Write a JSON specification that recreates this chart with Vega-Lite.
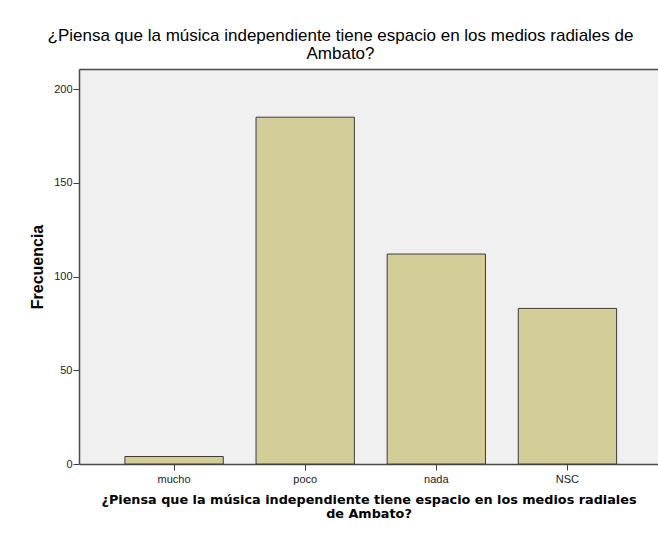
{
  "$schema": "https://vega.github.io/schema/vega-lite/v6.json",
  "autosize": "none",
  "width": 579,
  "height": 395,
  "padding": {"left": 79, "top": 69, "right": 0, "bottom": 69},
  "background": "white",
  "title": {
    "text": ["¿Piensa que la música independiente tiene espacio en los medios radiales de", "Ambato?"],
    "font": "Liberation Sans",
    "fontSize": 17,
    "fontWeight": "normal",
    "color": "#000000",
    "lineHeight": 18.5,
    "anchor": "middle",
    "dx": -28,
    "offset": 6
  },
  "config": {
    "view": {"stroke": null, "fill": "#F0F0F0"}
  },
  "data": {
    "values": [
      {"respuesta": "mucho", "frecuencia": 4},
      {"respuesta": "poco", "frecuencia": 185},
      {"respuesta": "nada", "frecuencia": 112},
      {"respuesta": "NSC", "frecuencia": 83}
    ]
  },
  "resolve": {"axis": {"x": "independent"}},
  "layer": [
    {
      "mark": {"type": "bar", "fill": "#D3CE97", "stroke": "#3c3c3c", "strokeWidth": 1},
      "encoding": {
        "x": {
          "field": "respuesta",
          "type": "nominal",
          "sort": ["mucho", "poco", "nada", "NSC"],
          "scale": {"paddingInner": 0.25, "paddingOuter": 0.333, "align": 0.526},
          "axis": {
            "title": ["¿Piensa que la música independiente tiene espacio en los medios radiales", "de Ambato?"],
            "titleFont": "DejaVu Sans",
            "titleFontSize": 12.8,
            "titleFontWeight": "bold",
            "titleColor": "#000000",
            "titleLineHeight": 14,
            "titlePadding": 9,
            "labelAngle": 0,
            "labelFont": "Liberation Sans",
            "labelFontSize": 11,
            "labelColor": "#222222",
            "labelPadding": 3,
            "tickColor": "#3c3c3c",
            "tickSize": 6,
            "domainColor": "#4a4a4a",
            "domainWidth": 1.5
          }
        },
        "y": {
          "field": "frecuencia",
          "type": "quantitative",
          "scale": {"domain": [0, 210.7], "nice": false},
          "axis": {
            "title": "Frecuencia",
            "titleFont": "Liberation Sans",
            "titleFontSize": 16,
            "titleFontWeight": "bold",
            "titleColor": "#000000",
            "titlePadding": 8,
            "values": [0, 50, 100, 150, 200],
            "labelFont": "Liberation Sans",
            "labelFontSize": 11,
            "labelColor": "#222222",
            "labelPadding": 1,
            "tickColor": "#3c3c3c",
            "tickSize": 6,
            "grid": false,
            "domainColor": "#4a4a4a",
            "domainWidth": 1.5
          }
        }
      }
    },
    {
      "mark": {"type": "bar", "opacity": 0},
      "encoding": {
        "x": {
          "field": "respuesta",
          "type": "nominal",
          "sort": ["mucho", "poco", "nada", "NSC"],
          "axis": {
            "orient": "top",
            "title": null,
            "labels": false,
            "ticks": false,
            "domainColor": "#4a4a4a",
            "domainWidth": 1.5
          }
        },
        "y": {"field": "frecuencia", "type": "quantitative"}
      }
    }
  ]
}
